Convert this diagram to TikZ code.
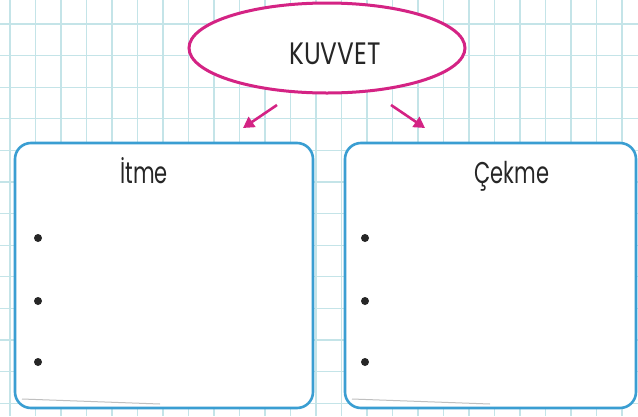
\documentclass[tikz,border=0pt]{standalone}
\usepackage{fontspec}
\newfontfamily\yazi[FakeStretch=0.8]{Poppins}
\newfontfamily\dar[FakeStretch=0.7]{Poppins}
\usetikzlibrary{shapes.geometric,arrows.meta}
\definecolor{izgara}{HTML}{C4E4E8}
\definecolor{pembe}{HTML}{D42384}
\definecolor{mavi}{HTML}{3A9ED2}
\begin{document}
\begin{tikzpicture}[x=1pt,y=-1pt]
    \tikzstyle{oval}=[ellipse,draw=pembe,line width=3pt,fill=white,minimum width=276pt,minimum height=90pt,inner sep=0pt]
    \tikzstyle{kutu}=[rectangle,rounded corners=16pt,draw=mavi,line width=2.6pt,fill=white,inner sep=0pt]
    \tikzstyle{baslik}=[font=\yazi\fontsize{31}{33}\selectfont,text=black!85,inner sep=0pt]
    \tikzstyle{altbaslik}=[font=\dar\fontsize{30}{32}\selectfont,text=black!85,inner sep=0pt,anchor=base]
    \tikzstyle{ok}=[draw=pembe,line width=2.6pt,-{Triangle[length=11pt,width=12pt]}]
    \tikzstyle{madde}=[circle,fill=black!85,minimum size=8pt,inner sep=0pt]
    \useasboundingbox (0,0) rectangle (638,416);
    \fill[white] (0,0) rectangle (638,416);
    \foreach \i in {0,...,24} \draw[izgara,line width=1.3pt] (10+25.5*\i,0) -- (10+25.5*\i,416);
    \foreach \j in {0,...,12} \draw[izgara,line width=1.3pt] (0,24+31.6*\j) -- (638,24+31.6*\j);
    \node[oval] (kuvvet) at (327,48) {};
    \node[baslik] (kuvvetyazi) at (335,54) {KUVVET};
    \node[kutu,minimum width=298pt,minimum height=265pt] (itme) at (164,275.5) {};
    \node[kutu,minimum width=291pt,minimum height=265pt] (cekme) at (490.5,275.5) {};
    \draw[gray!50,line width=1pt] (22,399) -- (160,404);
    \draw[gray!50,line width=1pt] (352,399) -- (490,404);
    \node[altbaslik] (itmeyazi) at (144,183) {İtme};
    \node[altbaslik] (cekmeyazi) at (512,183) {Çekme};
    \coordinate (sol) at (277,105);
    \coordinate (soluc) at (243,128);
    \coordinate (sag) at (391,105);
    \coordinate (saguc) at (425,128);
    \draw[ok] (sol) -- (soluc);
    \draw[ok] (sag) -- (saguc);
    \foreach \y [count=\n] in {238,301,362} {
        \node[madde] (a\n) at (38,\y) {};
        \node[madde] (b\n) at (365,\y) {};
    }
\end{tikzpicture}
\end{document}
